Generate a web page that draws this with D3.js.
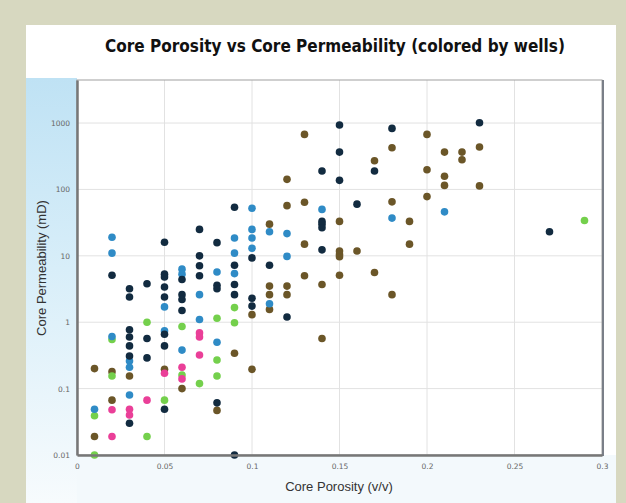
<!DOCTYPE html>
<html>
<head>
<meta charset="utf-8">
<script src="https://cdn.jsdelivr.net/npm/d3@7"></script>
<style>
  body { margin: 0; background: #d7d8c0; }
  svg { display: block; }
</style>
</head>
<body>
<svg id="chart" width="626" height="503"></svg>
<script>
const width = 626;
const height = 503;
const margin = {left: 77, right: 24, top: 80, bottom: 48};

const chartTitle = "Core Porosity vs Core Permeability (colored by wells)";
const xTitle = "Core Porosity (v/v)";
const yTitle = "Core Permeability (mD)";
const xTicks = [0, 0.05, 0.1, 0.15, 0.2, 0.25, 0.3];
const xTickLabels = ["0", "0.05", "0.1", "0.15", "0.2", "0.25", "0.3"];
const yTicks = [0.01, 0.1, 1, 10, 100, 1000];
const yTickLabels = ["0.01", "0.1", "1", "10", "100", "1000"];

// one pair of arrays per well: porosity (v/v) and permeability (mD)
const wellBrownPhi = [0.01, 0.01, 0.02, 0.02, 0.03, 0.05, 0.06, 0.08, 0.09, 0.10, 0.10,
  0.11, 0.11, 0.11, 0.11, 0.12, 0.12, 0.12, 0.12, 0.13, 0.13, 0.13, 0.13, 0.14, 0.14,
  0.15, 0.15, 0.15, 0.15, 0.15, 0.16, 0.17, 0.17, 0.18, 0.18, 0.18, 0.19, 0.19,
  0.20, 0.20, 0.20, 0.21, 0.21, 0.21, 0.22, 0.22, 0.23, 0.23];
const wellBrownK = [0.2, 0.019, 0.18, 0.067, 0.155, 0.195, 0.10, 0.047, 0.34, 1.3, 0.195,
  30, 3.5, 2.6, 1.56, 142, 57, 3.5, 2.6, 675, 64, 15, 5.0, 3.7, 0.57,
  33, 11.8, 10.5, 9.7, 5.1, 11.8, 270, 5.6, 425, 65, 2.6, 33, 15,
  675, 198, 78, 365, 158, 115, 365, 280, 435, 113];

const wellGreenPhi = [0.01, 0.01, 0.02, 0.02, 0.04, 0.04, 0.05, 0.06, 0.06, 0.07,
  0.08, 0.08, 0.08, 0.09, 0.09, 0.29];
const wellGreenK = [0.039, 0.01, 0.55, 0.155, 1.0, 0.019, 0.067, 0.86, 0.16, 0.119,
  1.15, 0.27, 0.155, 1.66, 0.98, 34];

const wellBluePhi = [0.01, 0.02, 0.02, 0.02, 0.03, 0.03, 0.03, 0.05, 0.05, 0.06, 0.06, 0.06,
  0.07, 0.07, 0.08, 0.08, 0.09, 0.09, 0.09, 0.10, 0.10, 0.10, 0.10, 0.11, 0.11,
  0.12, 0.12, 0.14, 0.18, 0.21];
const wellBlueK = [0.049, 19, 11, 0.61, 0.26, 0.21, 0.080, 1.7, 0.74, 6.3, 5.3, 0.38,
  2.6, 1.1, 5.7, 0.50, 18.6, 11, 5.4, 52, 25, 18.6, 13, 23, 1.9,
  21.6, 9.8, 50, 37, 46];

const wellPinkPhi = [0.02, 0.02, 0.03, 0.03, 0.04, 0.05, 0.06, 0.06, 0.07, 0.07, 0.07];
const wellPinkK = [0.048, 0.019, 0.049, 0.040, 0.067, 0.17, 0.21, 0.14, 0.69, 0.60, 0.32];

const wellNavyPhi = [0.02, 0.03, 0.03, 0.03, 0.03, 0.03, 0.03, 0.03, 0.04, 0.04, 0.04,
  0.05, 0.05, 0.05, 0.05, 0.05, 0.05, 0.05, 0.05, 0.06, 0.06, 0.06, 0.06,
  0.07, 0.07, 0.07, 0.07, 0.08, 0.08, 0.08, 0.08, 0.09, 0.09, 0.09, 0.09, 0.09,
  0.10, 0.10, 0.10, 0.11, 0.12, 0.14, 0.14, 0.14, 0.14, 0.14, 0.15, 0.15, 0.15,
  0.16, 0.17, 0.18, 0.23, 0.27];
const wellNavyK = [5.1, 3.2, 2.4, 0.77, 0.60, 0.44, 0.31, 0.030, 3.8, 0.57, 0.29,
  16, 5.3, 4.8, 3.4, 2.4, 0.66, 0.44, 0.049, 4.4, 2.6, 2.2, 1.5,
  25, 10, 7.1, 5.0, 15.8, 3.6, 3.2, 0.061, 54, 7.2, 3.7, 2.6, 0.01,
  9.3, 2.3, 1.75, 7.2, 1.2, 190, 33, 30, 26.5, 12.3, 933, 365, 137,
  60, 190, 830, 1010, 23];

const wells = [
  {name: "Well B", color: "#6b5628", phi: wellBrownPhi, k: wellBrownK},
  {name: "Well G", color: "#74d04c", phi: wellGreenPhi, k: wellGreenK},
  {name: "Well L", color: "#2f8bc6", phi: wellBluePhi, k: wellBlueK},
  {name: "Well P", color: "#ea3f98", phi: wellPinkPhi, k: wellPinkK},
  {name: "Well N", color: "#122b40", phi: wellNavyPhi, k: wellNavyK}
];

const svg = d3.select("#chart");
const plotW = width - margin.left - margin.right;
const plotH = height - margin.top - margin.bottom;

const x = d3.scaleLinear().domain([0, 0.3]).range([margin.left, margin.left + plotW]);
const y = d3.scaleLog().domain([0.01, 4450]).range([margin.top + plotH, margin.top]);

// backgrounds
const defs = svg.append("defs");
const grad = defs.append("linearGradient")
  .attr("id", "leftfade").attr("x1", 0).attr("y1", 0).attr("x2", 0).attr("y2", 1);
grad.append("stop").attr("offset", "0%").attr("stop-color", "#bfe2f4");
grad.append("stop").attr("offset", "45%").attr("stop-color", "#d8eef9");
grad.append("stop").attr("offset", "100%").attr("stop-color", "#f7fbfd");

svg.append("rect").attr("x", 26).attr("y", 25).attr("width", 590).attr("height", height - 25)
  .attr("fill", "#ffffff");
svg.append("rect").attr("x", 26).attr("y", 78).attr("width", margin.left - 26).attr("height", height - 78)
  .attr("fill", "url(#leftfade)");
svg.append("rect").attr("x", margin.left).attr("y", margin.top + plotH).attr("width", plotW + 14)
  .attr("height", margin.bottom).attr("fill", "#f3f9fc");

svg.append("rect")
  .attr("x", margin.left).attr("y", margin.top)
  .attr("width", plotW).attr("height", plotH)
  .attr("fill", "#ffffff");

// grid
const grid = svg.append("g").attr("stroke", "#e2e2e2").attr("stroke-width", 1);
grid.selectAll("line.v")
  .data(xTicks.slice(1, -1))
  .join("line")
    .attr("class", "v")
    .attr("x1", d => x(d)).attr("x2", d => x(d))
    .attr("y1", margin.top).attr("y2", margin.top + plotH);
grid.selectAll("line.h")
  .data(yTicks.slice(1))
  .join("line")
    .attr("class", "h")
    .attr("x1", margin.left).attr("x2", margin.left + plotW)
    .attr("y1", d => y(d)).attr("y2", d => y(d));

// frame
svg.append("rect")
  .attr("x", margin.left).attr("y", margin.top)
  .attr("width", plotW).attr("height", plotH)
  .attr("fill", "none").attr("stroke", "#a0a0a0").attr("stroke-width", 1);
svg.append("line")
  .attr("x1", margin.left + plotW + 1).attr("x2", margin.left + plotW + 1)
  .attr("y1", margin.top).attr("y2", margin.top + plotH + 1)
  .attr("stroke", "#7a7f88").attr("stroke-width", 2);

// points
const pts = svg.append("g");
wells.forEach(w => {
  pts.append("g")
    .attr("fill", w.color)
    .selectAll("circle")
    .data(w.phi.map((p, i) => ({phi: p, k: w.k[i]})))
    .join("circle")
      .attr("cx", d => x(d.phi))
      .attr("cy", d => y(d.k))
      .attr("r", 3.8);
});

// axes
const xAxis = d3.axisBottom(x)
  .tickValues(xTicks)
  .tickFormat((d, i) => xTickLabels[i])
  .tickSize(0).tickPadding(9);
const yAxis = d3.axisLeft(y)
  .tickValues(yTicks)
  .tickFormat((d, i) => yTickLabels[i])
  .tickSize(0).tickPadding(7);

const gx = svg.append("g")
  .attr("transform", `translate(0,${margin.top + plotH})`)
  .call(xAxis);
const gy = svg.append("g")
  .attr("transform", `translate(${margin.left},0)`)
  .call(yAxis);

[gx, gy].forEach(g => {
  g.select(".domain").attr("stroke", "#777").attr("stroke-width", 2.5);
  g.selectAll("text")
    .attr("fill", "#666")
    .style("font-family", "DejaVu Sans, sans-serif")
    .style("font-size", "7.5px");
});

// titles
const title = svg.append("text")
  .attr("x", 335).attr("y", 52)
  .attr("text-anchor", "middle")
  .attr("fill", "#111")
  .style("font-family", "DejaVu Sans Condensed, DejaVu Sans, sans-serif")
  .style("font-weight", "bold")
  .style("font-size", "15px")
  .text(chartTitle);
const tw = title.node().getComputedTextLength();
title.style("font-size", Math.min(17, 15 * 477 / tw).toFixed(2) + "px");

svg.append("text")
  .attr("x", 339).attr("y", 491)
  .attr("text-anchor", "middle")
  .attr("fill", "#333")
  .style("font-family", "Liberation Sans, Arial, sans-serif")
  .style("font-size", "13px")
  .text(xTitle);

svg.append("text")
  .attr("transform", "translate(46,268) rotate(-90)")
  .attr("text-anchor", "middle")
  .attr("fill", "#333")
  .style("font-family", "Liberation Sans, Arial, sans-serif")
  .style("font-size", "13px")
  .text(yTitle);
</script>
</body>
</html>
